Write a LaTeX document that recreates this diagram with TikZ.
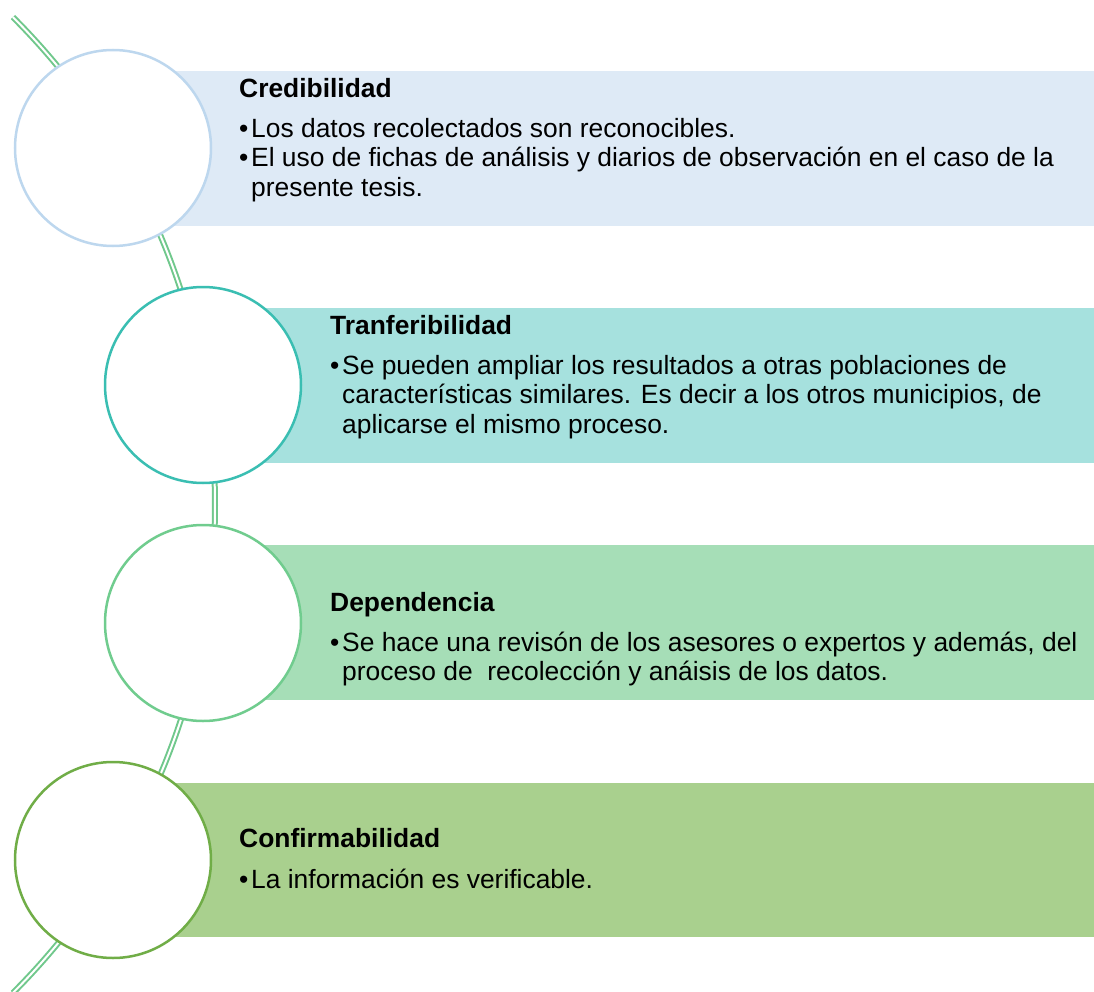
\documentclass[tikz,border=0pt]{standalone}
\usepackage{fontspec}
\setmainfont{Liberation Sans}

\definecolor{bandA}{RGB}{222,234,246}
\definecolor{ringA}{RGB}{189,215,238}
\definecolor{bandB}{RGB}{166,225,222}
\definecolor{ringB}{RGB}{58,190,178}
\definecolor{bandC}{RGB}{166,222,183}
\definecolor{ringC}{RGB}{112,204,142}
\definecolor{bandD}{RGB}{169,208,142}
\definecolor{ringD}{RGB}{112,173,71}
\definecolor{spine}{RGB}{112,200,140}

\newcommand{\bul}{\makebox[12pt][l]{•}}
\newcommand{\ind}{\hspace*{12pt}}

\begin{document}
\begin{tikzpicture}[x=1pt,y=-1pt,
        ring/.style={circle,minimum size=196pt,inner sep=0pt,fill=white,line width=2.5pt},
        band/.style={rectangle,anchor=north west,inner sep=0pt,minimum height=155pt},
        item text/.style={anchor=north west,inner sep=0pt,align=left,
                          font=\fontsize{26.4}{29.5}\selectfont}]

        \useasboundingbox (0,0) rectangle (1094,992);

        % Draw spine
        \coordinate (hub) at (-475,505);
        \draw[spine,line width=2pt,double=white,double distance=2pt]
            (hub) ++(-45:690) arc[start angle=-45,end angle=45,radius=690];

        % Define bands
        \node[band,fill=bandA,minimum width=924pt] (b1) at (170,71) {};
        \node[band,fill=bandB,minimum width=834pt] (b2) at (260,308) {};
        \node[band,fill=bandC,minimum width=834pt] (b3) at (260,545) {};
        \node[band,fill=bandD,minimum width=924pt,minimum height=154pt] (b4) at (170,783) {};

        % Define rings
        \node[ring,draw=ringA] (c1) at (113,148) {};
        \node[ring,draw=ringB] (c2) at (203,385) {};
        \node[ring,draw=ringC] (c3) at (203,623) {};
        \node[ring,draw=ringD] (c4) at (113,860) {};

        % Texts
        \node[item text] (t1) at (239,78) {\textbf{Credibilidad}\\[10.5pt]
            \bul Los datos recolectados son reconocibles.\\
            \bul El uso de fichas de análisis y diarios de observación en el caso de la\\
            \ind presente tesis.};
        \node[item text] (t2) at (330,315) {\textbf{Tranferibilidad}\\[10.5pt]
            \bul Se pueden ampliar los resultados a otras poblaciones de\\
            \ind características similares. Es decir a los otros municipios, de\\
            \ind aplicarse el mismo proceso.};
        \node[item text] (t3) at (330,592) {\textbf{Dependencia}\\[10.5pt]
            \bul Se hace una revisón de los asesores o expertos y además, del\\
            \ind proceso de\ \ recolección y anáisis de los datos.};
        \node[item text] (t4) at (239,828) {\textbf{Confirmabilidad}\\[12pt]
            \bul La información es verificable.};

\end{tikzpicture}
\end{document}
